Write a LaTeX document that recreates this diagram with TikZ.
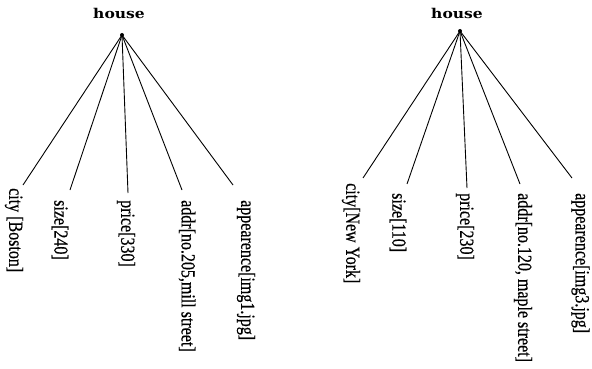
\documentclass[tikz,border=0pt]{standalone}
\usepackage{fontspec}
\setmainfont{Liberation Serif}[FakeBold=0.6]
\newfontfamily\housefont{DejaVu Serif}
\newcommand{\leaftxt}[1]{\scalebox{1}[1.25]{#1}}
\begin{document}
\begin{tikzpicture}[x=1pt,y=-1pt,
  rootdot/.style={circle,fill=black,inner sep=0pt,minimum size=4pt},
  roottext/.style={inner sep=0pt,font=\housefont\bfseries\fontsize{13.5}{15}\selectfont,xscale=1.15},
  leaf/.style={rotate=-90,anchor=west,inner sep=0pt,font=\fontsize{16}{18}\selectfont},
  edge/.style={line width=0.9pt}]
\useasboundingbox (0,0) rectangle (592,369);
% left tree
\node[roottext] (h1) at (119,13.5) {house};
\node[rootdot] (r1) at (122,35) {};
\node[leaf] (l11) at (14,188) {\leaftxt{city [Boston]}};
\node[leaf] (l12) at (60,200) {\leaftxt{size[240]}};
\node[leaf] (l13) at (126,200) {\leaftxt{price[330]}};
\node[leaf] (l14) at (187,200) {\leaftxt{addr[no.205,mill street]}};
\node[leaf] (l15) at (246,200) {\leaftxt{appearence[img1.jpg]}};
\coordinate (e11) at (23,185);
\coordinate (e12) at (70,190);
\coordinate (e13) at (128,193);
\coordinate (e14) at (182,190);
\coordinate (e15) at (233,185);
\foreach \i in {1,...,5} \draw[edge] (r1.center) -- (e1\i);
% right tree
\node[roottext] (h2) at (457,13.5) {house};
\node[rootdot] (r2) at (460,31) {};
\node[leaf] (l21) at (351,183) {\leaftxt{city[New York]}};
\node[leaf] (l22) at (398,193) {\leaftxt{size[110]}};
\node[leaf] (l23) at (465,193) {\leaftxt{price[230]}};
\node[leaf] (l24) at (523,193) {\leaftxt{addr[no.120, maple street]}};
\node[leaf] (l25) at (580.5,193) {\leaftxt{appearence[img3.jpg]}};
\coordinate (e21) at (363,178);
\coordinate (e22) at (407,184);
\coordinate (e23) at (467,188);
\coordinate (e24) at (520,184);
\coordinate (e25) at (572,178);
\foreach \i in {1,...,5} \draw[edge] (r2.center) -- (e2\i);
\end{tikzpicture}
\end{document}
